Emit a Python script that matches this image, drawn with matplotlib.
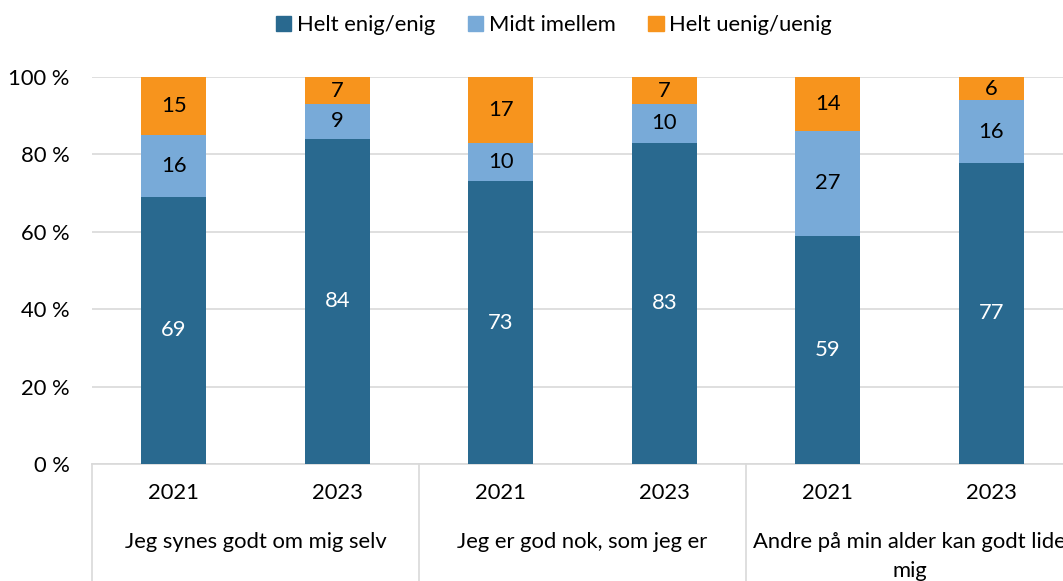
import numpy as np
import matplotlib.pyplot as plt
from matplotlib.patches import Patch
from matplotlib.transforms import blended_transform_factory

plt.rcParams['font.family'] = ['Lato', 'DejaVu Sans']

# Data
years = ['2021', '2023', '2021', '2023', '2021', '2023']
groups = ['Jeg synes godt om mig selv', 'Jeg er god nok, som jeg er',
          'Andre på min alder kan godt lide\nmig']
series = ['Helt enig/enig', 'Midt imellem', 'Helt uenig/uenig']
enig = [69, 84, 73, 83, 59, 77]
midt = [16, 9, 10, 10, 27, 16]
uenig = [15, 7, 17, 7, 14, 6]

colors = ['#29698f', '#78aad8', '#f7941d']
text_colors = ['white', 'black', 'black']
fs = 15.8

fig = plt.figure(figsize=(10.63, 5.81), dpi=100)
ax = fig.add_axes((0.0866, 0.2014, 0.9228, 0.6661))

x = np.arange(len(years))
vals = np.array([enig, midt, uenig], dtype=float)
totals = vals.sum(axis=0)
pct = vals / totals * 100

bottom = np.zeros(len(years))
for i in range(3):
    bars = ax.bar(x, pct[i], 0.4, bottom=bottom, color=colors[i], zorder=3)
    ax.bar_label(bars, labels=[str(int(v)) for v in vals[i]], label_type='center',
                 color=text_colors[i], fontsize=fs)
    bottom += pct[i]

ax.set_xlim(-0.5, 5.5)
ax.set_ylim(0, 100)
ax.set_yticks([0, 20, 40, 60, 80, 100])
ax.set_yticklabels([f'{v} %' for v in [0, 20, 40, 60, 80, 100]])
ax.yaxis.grid(True, color='#d9d9d9', lw=1.2, zorder=0)
ax.set_xticks(x)
ax.set_xticklabels(years)
ax.tick_params(axis='both', length=0, labelsize=fs)
ax.tick_params(axis='x', pad=14)
ax.tick_params(axis='y', pad=16)

for s in ['left', 'right', 'top']:
    ax.spines[s].set_visible(False)
ax.spines['bottom'].set_color('#d9d9d9')
ax.spines['bottom'].set_linewidth(1.2)

# Group separators and labels
trans = blended_transform_factory(ax.transData, ax.transAxes)
for sx in [-0.5, 1.5, 3.5, 5.5]:
    ax.plot([sx, sx], [0, -0.31], color='#d9d9d9', lw=1.2, transform=trans, clip_on=False)
for gi, g in enumerate(groups):
    ax.text(2 * gi + 0.5, -0.176, g, transform=trans, ha='center', va='top',
            fontsize=fs, linespacing=1.55)

handles = [Patch(color=c) for c in colors]
fig.legend(handles, series, loc='center', bbox_to_anchor=(0.521, 0.957), ncol=3,
           frameon=False, fontsize=fs, handlelength=0.7, handleheight=0.7,
           handletextpad=0.25, columnspacing=1.5)

fig.savefig('out.png', dpi=100)
